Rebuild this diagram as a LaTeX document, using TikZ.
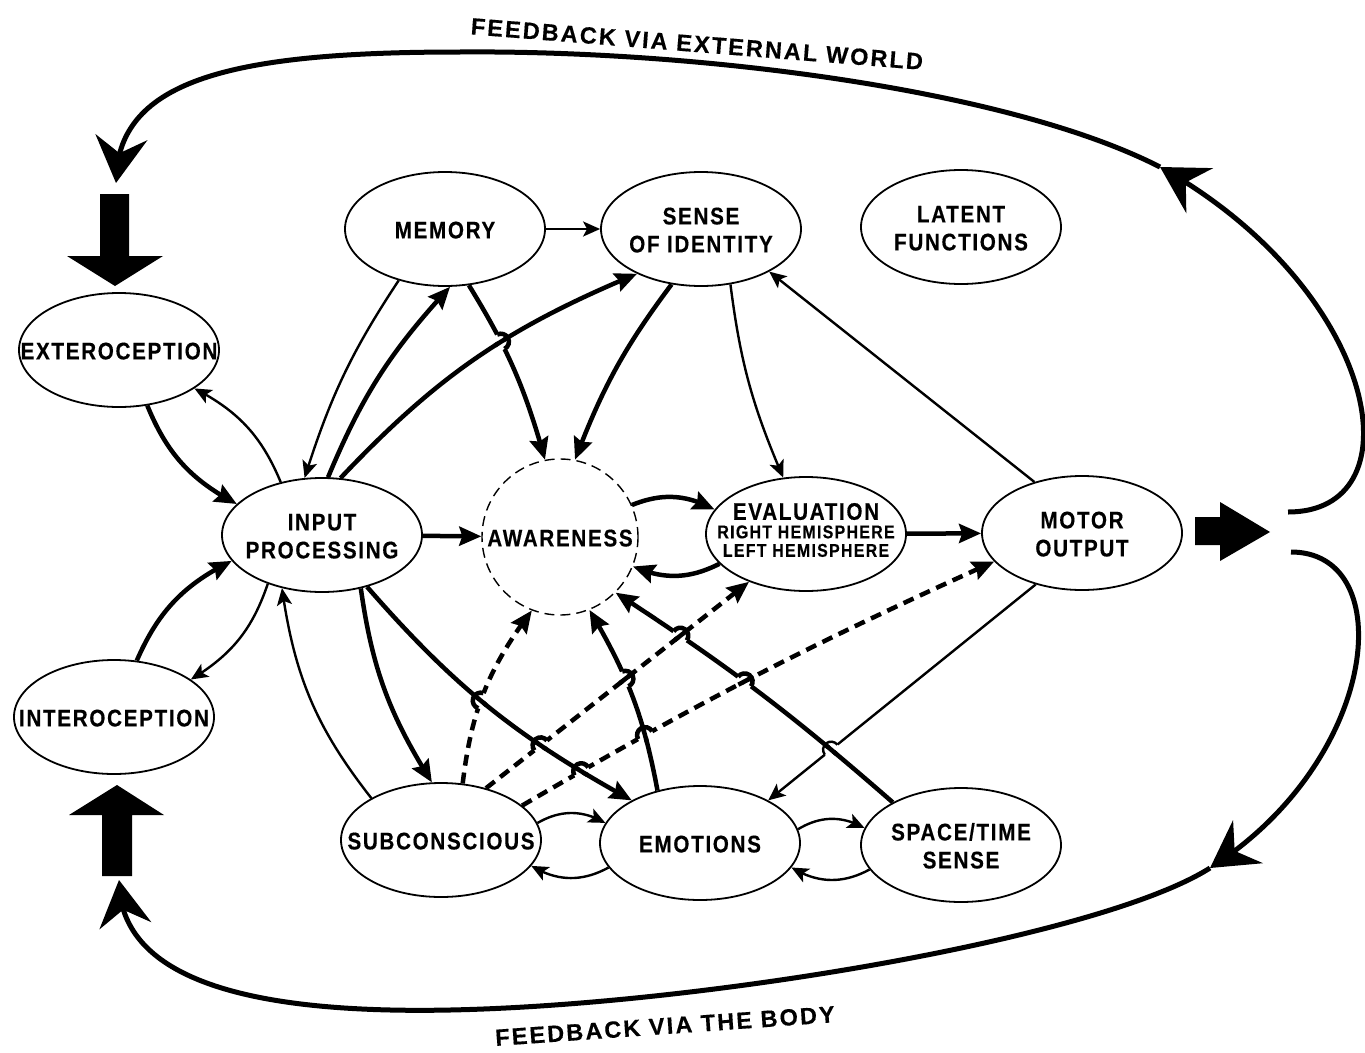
\documentclass[tikz,border=0pt]{standalone}
\usepackage{fontspec}
\newfontfamily\lblfont[FakeStretch=0.86,LetterSpace=7,FakeBold=0.4]{Liberation Sans}
\newfontfamily\fbfont[LetterSpace=9,FakeBold=0.4]{Liberation Sans}
\usetikzlibrary{shapes.geometric}
\usetikzlibrary{arrows.meta,bending}
\usetikzlibrary{calc,intersections}

% centred label of no size, lowered by the optional shift
\newcommand\lbl[2][-10pt]{\hbox to 0pt{\hss\smash{\raisebox{#1}{\begin{tabular}{@{}c@{}}#2\end{tabular}}}\hss}}
% hop of path #2 over path #3, #1 = line style of #2, #4 = side
\newcommand\hop[4][thkl]{%
  \path[name intersections={of=#2 and #3, by=hx}];
  \path[name path=hopc] (hx) circle (8pt);
  \path[name path=hopq] (hx) circle (7pt);
  \path[name intersections={of=#2 and hopc, sort by=#2, by={ha,hb}}];
  \path[name intersections={of=#3 and hopq, by={hq,hr}}];
  \draw[white, line width=6pt] (ha) -- (hb);
  \draw[thkl] (hq) -- (hr);
  \draw[#1] let \p1=($(ha)-(hx)$), \n1={atan2(\y1,\x1)} in (ha) arc[start angle=\n1, delta angle=#4, radius=8pt];
}

\tikzset{
  box/.style={ellipse, draw, line width=1.8pt, minimum width=200pt, minimum height=114pt, inner sep=0pt,
    font=\lblfont\bfseries\fontsize{24}{28}\selectfont},
  aware/.style={circle, draw, line width=1.4pt, dash pattern=on 10pt off 6pt, minimum size=156pt, inner sep=0pt,
    font=\lblfont\bfseries\fontsize{24}{28}\selectfont},
  thkl/.style={line width=4.5pt},
  thnl/.style={line width=2.4pt},
  dshl/.style={thkl, dash pattern=on 11pt off 7pt},
  thk/.style={thkl, -{Stealth[length=22pt,width=19pt,inset=3pt]}},
  thn/.style={thnl, -{Stealth[length=17pt,width=15pt,inset=4pt]}},
  dsh/.style={dshl, -{Stealth[length=22pt,width=19pt,inset=3pt]}},
  fb/.style={line width=5pt},
  fbtip/.style={fb, -{Stealth[length=46pt,width=52pt,inset=16pt]}},
  fblabel/.style={inner sep=0pt, font=\fbfont\bfseries\fontsize{23.5}{28}\selectfont},
}

\begin{document}
\begin{tikzpicture}[x=1pt,y=-1pt]
\useasboundingbox (0,0) rectangle (1365,1052);

\node[box] (mem) at (445,229) {\lbl{MEMORY}};
\node[box] (sid) at (701,229) {\lbl{SENSE\\OF IDENTITY}};
\node[box] (lat) at (961,227) {\lbl{LATENT\\FUNCTIONS}};
\node[box] (ext) at (119,350) {\lbl{EXTEROCEPTION}};
\node[box] (inp) at (322,535) {\lbl{INPUT\\PROCESSING}};
\node[aware] (aw) at (560,537) {\lbl{AWARENESS}};
\node[box, font=\lblfont\bfseries\fontsize{18.5}{18.5}\selectfont] (eval) at (806,534)
  {\lbl[-3pt]{{\fontsize{24}{19}\selectfont EVALUATION}\\RIGHT HEMISPHERE\\LEFT HEMISPHERE}};
\node[box] (mot) at (1082,533) {\lbl{MOTOR\\OUTPUT}};
\node[box] (int) at (114,717) {\lbl{INTEROCEPTION}};
\node[box] (sub) at (441,840) {\lbl{SUBCONSCIOUS}};
\node[box] (emo) at (700,843) {\lbl{EMOTIONS}};
\node[box] (spt) at (961,845) {\lbl{SPACE/TIME\\SENSE}};

% upper part
\draw[thn] (mem) -- (sid);
\draw[thn] (mem.228) to[bend right=8] (inp.107);
\draw[thk] (inp.84) to[bend left=10] (mem.275);
\draw[thk, name path=inpsid] (inp.72) to[bend left=12] (sid.215);
\draw[thk, name path=memaw] (mem.293) to[bend left=8] (aw.101);
\draw[thk] (sid.242) to[bend right=8] (aw.79);
\draw[thn] (sid.298) to[bend right=8] (eval.112);
\draw[thn] (mot.133) -- (sid.328);

\draw[thk] (ext.297) to[bend right=20] (inp.160);
\draw[thn] (inp.128) to[bend right=20] (ext.333);
\draw[thk] (int.68) to[bend left=20] (inp.196);
\draw[thn] (inp.222) to[bend left=20] (int.26);

\draw[thk] (inp) -- (aw);
\draw[thk] (aw.24) to[bend left=25] (eval.165);
\draw[thk] (eval.199) to[bend left=25] (aw.338);
\draw[thk] (eval) -- (mot);

% lower part
\draw[thn] (sub.149) to[bend left=15] (inp.233);
\draw[thk] (inp.306) to[bend right=12] (sub.99);
\draw[thk, name path=inpemo] (inp.311) to[bend right=10] (emo.148);
\draw[thk, name path=emoaw] (emo.129) to[bend right=10] (aw.292);
\draw[thk, name path=sptaw] (spt.148) to[bend right=4] (aw.315);
\draw[thn, name path=motemo] (mot.228) -- (emo.32);
\draw[dsh, name path=subaw] (sub.69) to[bend left=15] (aw.249);
\draw[dsh, name path=subeval] (sub.49) -- (eval.220);
\draw[dsh, name path=submot] (sub.23) to[bend left=3] (mot.198);
\draw[thn] (sub.10) to[bend left=30] (emo.168);
\draw[thn] (emo.195) to[bend left=30] (sub.344);
\draw[thn] (emo.8) to[bend left=30] (spt.170);
\draw[thn] (spt.195) to[bend left=30] (emo.345);

\hop{memaw}{inpsid}{-180}
\hop{subaw}{inpemo}{-180}
\hop{subeval}{inpemo}{-180}
\hop{submot}{inpemo}{-180}
\hop{emoaw}{subeval}{180}
\hop{sptaw}{subeval}{180}
\hop{submot}{emoaw}{-180}
\hop{sptaw}{submot}{180}
\hop[thnl]{motemo}{sptaw}{180}

% feedback loops
\coordinate (fbT0) at (1288,512);
\coordinate (fbT1) at (1160,167);
\coordinate (fbT2) at (460,52);
\coordinate (fbT3) at (116,183);
\draw[fbtip] (fbT0) .. controls (1420,512) and (1380,290) .. (fbT1);
\draw[fbtip] (fbT1) .. controls (1010,90) and (700,50) .. (fbT2) .. controls (230,52) and (116,80) .. (fbT3);

\coordinate (fbB0) at (1291,552);
\coordinate (fbB1) at (1210,868);
\coordinate (fbB2) at (450,1010);
\coordinate (fbB3) at (119,880);
\draw[fbtip] (fbB0) .. controls (1400,552) and (1380,760) .. (fbB1);
\draw[fbtip] (fbB1) .. controls (1100,938) and (700,1005) .. (fbB2) .. controls (250,1014) and (119,980) .. (fbB3);

\node[fblabel, rotate=-4.5] (fbext) at (697,44) {FEEDBACK VIA EXTERNAL WORLD};
\node[fblabel, rotate=4] (fbbody) at (665,1026) {FEEDBACK VIA THE BODY};

% block arrows
\fill (100,194) -- (129,194) -- (129,256) -- (163,256) -- (115,286) -- (67,256) -- (100,256) -- cycle;
\fill (102,876) -- (132,876) -- (132,815) -- (164,815) -- (117,785) -- (69,815) -- (102,815) -- cycle;
\fill (1195,517) -- (1220,517) -- (1220,502) -- (1270,532) -- (1220,561) -- (1220,545) -- (1195,545) -- cycle;
\end{tikzpicture}
\end{document}
